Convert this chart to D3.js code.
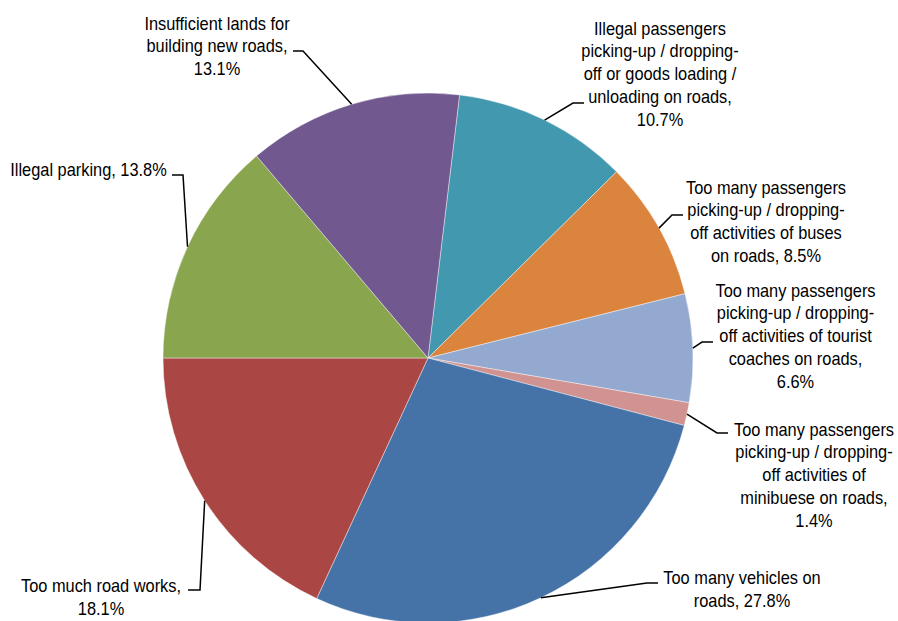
<!DOCTYPE html>
<html>
<head>
<meta charset="utf-8">
<script src="https://cdn.jsdelivr.net/npm/d3@7"></script>
<style>
  html, body { margin: 0; padding: 0; background: #ffffff; }
  svg { display: block; }
  text { font-family: "Liberation Sans", Arial, sans-serif; fill: #000; }
</style>
</head>
<body>
<svg id="chart" width="898" height="621"></svg>
<script>
// Causes of traffic congestion, share of responses (%)
const categories = [
  "Illegal passengers picking-up / dropping-off or goods loading / unloading on roads",
  "Too many passengers picking-up / dropping-off activities of buses on roads",
  "Too many passengers picking-up / dropping-off activities of tourist coaches on roads",
  "Too many passengers picking-up / dropping-off activities of minibuese on roads",
  "Too many vehicles on roads",
  "Too much road works",
  "Illegal parking",
  "Insufficient lands for building new roads"
];
const shares = [10.7, 8.5, 6.6, 1.4, 27.8, 18.1, 13.8, 13.1];

// Wrapped label lines (the value is appended from `shares`)
const labelLines = [
  ["Illegal passengers", "picking-up / dropping-", "off or goods loading /", "unloading on roads,", "{v}"],
  ["Too many passengers", "picking-up / dropping-", "off activities of buses", "on roads, {v}"],
  ["Too many passengers", "picking-up / dropping-", "off activities of tourist", "coaches on roads,", "{v}"],
  ["Too many passengers", "picking-up / dropping-", "off activities of", "minibuese on roads,", "{v}"],
  ["Too many vehicles on", "roads, {v}"],
  ["Too much road works,", "{v}"],
  ["Illegal parking, {v}"],
  ["Insufficient lands for", "building new roads,", "{v}"]
];

const sliceColors = ["#4198AF", "#DB843D", "#93A9CF", "#D19392", "#4572A7", "#AA4643", "#89A54E", "#71588F"];

// Label placement: text centre x, first baseline y, leader knee and end points
const labelLayout = [
  { x: 660,   y: 34.5,  knee: [573, 103], end: [584, 103] },
  { x: 766,   y: 193.5, knee: [672, 215], end: [683, 215] },
  { x: 795.5, y: 296.5, knee: [702, 342], end: [713, 342] },
  { x: 814,   y: 435.5, knee: [717, 433], end: [728, 433] },
  { x: 742,   y: 584,   knee: [647, 583], end: [658, 583] },
  { x: 101,   y: 592,   knee: [200, 590], end: [188, 590] },
  { x: 88.5,  y: 176,   knee: [183, 175], end: [172, 175] },
  { x: 217,   y: 29.5,  knee: [303, 51],  end: [293, 51] }
];

const cx = 428, cy = 358, radius = 265;
const startDeg = 6.84;
const lineHeight = 23;
const fontSize = 18;
const squeeze = 0.91;

const svg = d3.select("#chart");
const g = svg.append("g").attr("transform", `translate(${cx},${cy})`);

const start = startDeg * Math.PI / 180;
const pie = d3.pie().sort(null).value(d => d)
  .startAngle(start).endAngle(start + 2 * Math.PI);
const arcs = pie(shares);

const arc = d3.arc().innerRadius(0).outerRadius(radius);
const edge = d3.arc().innerRadius(radius).outerRadius(radius);

g.selectAll("path.slice")
  .data(arcs)
  .join("path")
  .attr("class", "slice")
  .attr("d", arc)
  .attr("fill", (d, i) => sliceColors[i])
  .attr("stroke", "#ffffff")
  .attr("stroke-width", 0.7)
  .attr("stroke-opacity", 0.6);

// Leader lines from the slice edge (mid-angle) to the label
const line = d3.line();
svg.selectAll("path.leader")
  .data(arcs)
  .join("path")
  .attr("class", "leader")
  .attr("d", (d, i) => {
    const [ex, ey] = edge.centroid(d);
    const L = labelLayout[i];
    return line([[cx + ex, cy + ey], L.knee, L.end]);
  })
  .attr("fill", "none")
  .attr("stroke", "#000")
  .attr("stroke-width", 1.5);

// Labels
const fmt = v => v.toFixed(1) + "%";
arcs.forEach((d, i) => {
  const L = labelLayout[i];
  const lines = labelLines[i].map(s => s.replace("{v}", fmt(shares[i])));
  const t = svg.append("text")
    .attr("transform", `translate(${L.x},${L.y}) scale(${squeeze},1)`)
    .attr("text-anchor", "middle")
    .attr("font-size", fontSize);
  lines.forEach((s, k) => {
    t.append("tspan").attr("x", 0).attr("y", k * lineHeight).text(s);
  });
});
</script>
</body>
</html>
